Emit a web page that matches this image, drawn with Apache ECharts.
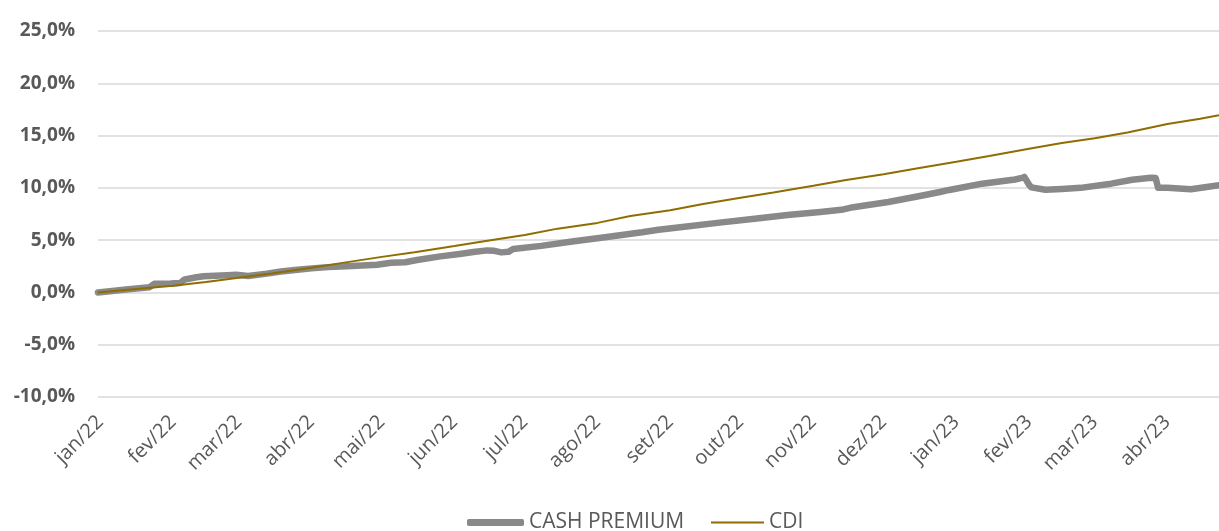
<!DOCTYPE html>
<html>
<head>
<meta charset="utf-8">
<script src="https://cdn.jsdelivr.net/npm/echarts@6/dist/echarts.min.js"></script>
<style>
  html, body { margin: 0; padding: 0; background: #fff; }
  #chart { width: 1219px; height: 531px; }
</style>
</head>
<body>
<div id="chart"></div>
<script>
const monthNames = ['jan', 'fev', 'mar', 'abr', 'mai', 'jun', 'jul', 'ago', 'set', 'out', 'nov', 'dez']
const yTicks = [-10, -5, 0, 5, 10, 15, 20, 25]

// CASH PREMIUM, retorno acumulado (%)
const cashDates = [
  '2021-12-31', '2022-01-13', '2022-01-22', '2022-01-24', '2022-01-31', '2022-02-04', '2022-02-06',
  '2022-02-11', '2022-02-14', '2022-02-24', '2022-02-28', '2022-03-05', '2022-03-13', '2022-03-19',
  '2022-03-25', '2022-04-01', '2022-04-08', '2022-04-16', '2022-04-29', '2022-05-05', '2022-05-11',
  '2022-05-16', '2022-05-26', '2022-06-04', '2022-06-09', '2022-06-15', '2022-06-18', '2022-06-21',
  '2022-06-24', '2022-06-26', '2022-07-08', '2022-07-22', '2022-08-05', '2022-08-20', '2022-08-27',
  '2022-09-08', '2022-09-23', '2022-10-07', '2022-10-21', '2022-11-04', '2022-11-13', '2022-11-18',
  '2022-12-03', '2022-12-17', '2022-12-25', '2022-12-29', '2023-01-12', '2023-01-26', '2023-01-29',
  '2023-01-30', '2023-02-01', '2023-02-02', '2023-02-08', '2023-02-15', '2023-02-23', '2023-03-08',
  '2023-03-17', '2023-03-25', '2023-03-27', '2023-03-28', '2023-04-01', '2023-04-11', '2023-04-23'
]
const cashValues = [
  0.0, 0.3, 0.5, 0.82, 0.85, 0.9, 1.24,
  1.45, 1.55, 1.65, 1.68, 1.58, 1.8, 2.0,
  2.15, 2.3, 2.42, 2.5, 2.65, 2.84, 2.88,
  3.1, 3.45, 3.7, 3.86, 4.02, 3.98, 3.83,
  3.88, 4.15, 4.45, 4.9, 5.3, 5.75, 6.0,
  6.3, 6.7, 7.05, 7.4, 7.7, 7.9, 8.15,
  8.65, 9.25, 9.6, 9.8, 10.4, 10.8, 10.95,
  11.05, 10.3, 10.05, 9.82, 9.9, 10.0, 10.4,
  10.78, 10.97, 10.95, 10.0, 10.02, 9.87, 10.25
]

// CDI, retorno acumulado (%)
const cdiDates = [
  '2021-12-31', '2022-01-15', '2022-02-01', '2022-02-15', '2022-03-01', '2022-03-15', '2022-04-01',
  '2022-04-15', '2022-05-01', '2022-05-15', '2022-06-01', '2022-06-15', '2022-07-01', '2022-07-15',
  '2022-08-01', '2022-08-15', '2022-09-01', '2022-09-15', '2022-10-01', '2022-10-15', '2022-11-01',
  '2022-11-15', '2022-12-01', '2022-12-15', '2023-01-01', '2023-01-15', '2023-02-01', '2023-02-15',
  '2023-03-01', '2023-03-15', '2023-04-01', '2023-04-15', '2023-04-23'
]
const cdiValues = [
  0.0, 0.3, 0.65, 1.0, 1.4, 1.8, 2.35,
  2.85, 3.4, 3.85, 4.45, 4.95, 5.5, 6.1,
  6.65, 7.3, 7.85, 8.45, 9.05, 9.55, 10.2,
  10.75, 11.3, 11.85, 12.5, 13.05, 13.75, 14.3,
  14.75, 15.3, 16.1, 16.6, 16.95
]

const toPairs = (dates, values) => dates.map((d, i) => [d, values[i]])

const cashColor = '#898989'
const cdiColor = '#8f6d00'
const legendText = { fontSize: 21, color: '#595959', fontFamily: 'Open Sans' }

const chart = echarts.init(document.getElementById('chart'), null, { renderer: 'canvas' })

chart.setOption({
  animation: false,
  textStyle: { fontFamily: 'Open Sans' },
  grid: {
    left: 98,
    right: 0,
    top: 31,
    bottom: 134
  },
  xAxis: {
    type: 'time',
    min: new Date(2021, 11, 31).getTime(),
    max: new Date(2023, 3, 23).getTime(),
    minInterval: 31 * 24 * 3600 * 1000,
    maxInterval: 31 * 24 * 3600 * 1000,
    axisLine: { show: false },
    axisTick: { show: false },
    splitLine: { show: false },
    axisLabel: {
      rotate: 45,
      margin: 22,
      fontSize: 20,
      color: '#595959',
      fontFamily: 'Open Sans',
      formatter: (value) => {
        const d = new Date(value)
        if (d.getDate() !== 1) return ''
        return monthNames[d.getMonth()] + '/' + String(d.getFullYear()).slice(2)
      }
    }
  },
  yAxis: {
    type: 'value',
    min: yTicks[0],
    max: yTicks[yTicks.length - 1],
    interval: 5,
    axisLine: { show: false },
    axisTick: { show: false },
    splitLine: {
      lineStyle: { color: '#d9d9d9', width: 1.5 }
    },
    axisLabel: {
      margin: 23,
      fontSize: 19,
      fontWeight: 'bold',
      color: '#595959',
      fontFamily: 'Open Sans',
      formatter: (v) => v.toFixed(1).replace('.', ',') + '%'
    }
  },
  // two legends so each icon can have its own line thickness
  legend: [
    {
      left: 462,
      top: 507,
      icon: 'roundRect',
      itemWidth: 57,
      itemHeight: 7,
      textStyle: legendText,
      data: ['CASH PREMIUM']
    },
    {
      left: 706,
      top: 507,
      icon: 'rect',
      itemWidth: 53,
      itemHeight: 2,
      textStyle: legendText,
      data: ['CDI']
    }
  ],
  series: [
    {
      name: 'CASH PREMIUM',
      type: 'line',
      showSymbol: false,
      symbol: 'none',
      lineStyle: { color: cashColor, width: 6.5, cap: 'round', join: 'round' },
      itemStyle: { color: cashColor },
      data: toPairs(cashDates, cashValues)
    },
    {
      name: 'CDI',
      type: 'line',
      showSymbol: false,
      symbol: 'none',
      lineStyle: { color: cdiColor, width: 2 },
      itemStyle: { color: cdiColor },
      data: toPairs(cdiDates, cdiValues)
    }
  ]
})
</script>
</body>
</html>
